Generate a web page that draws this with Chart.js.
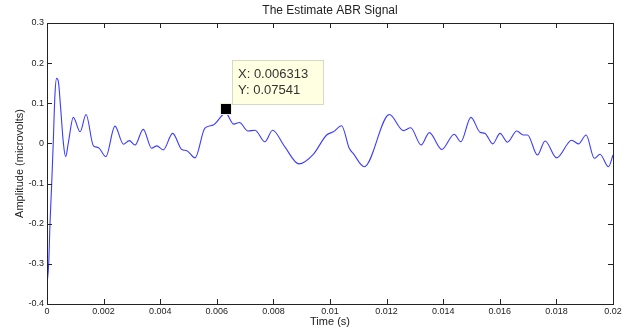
<!DOCTYPE html>
<html>
<head>
<meta charset="utf-8">
<script src="https://cdn.jsdelivr.net/npm/chart.js@4.4.1/dist/chart.umd.min.js"></script>
<style>
  html, body { margin: 0; padding: 0; background: #fff; }
  #wrap { width: 636px; height: 329px; }
</style>
</head>
<body>
<div id="wrap"><canvas id="abrChart" width="636" height="329"></canvas></div>
<script>
// Time samples (s)
const times = [
  0, 0.00006, 0.000106, 0.000166, 0.00022, 0.00028, 0.00034, 0.0004, 0.00048, 0.00058,
  0.00066, 0.00075, 0.00093, 0.00117, 0.00138, 0.00164, 0.00181, 0.00208, 0.0024, 0.0027,
  0.00291, 0.00311, 0.0034, 0.0037, 0.00388, 0.00411, 0.00444, 0.00476, 0.00494, 0.00523,
  0.00558, 0.00588, 0.006313, 0.0066, 0.0068, 0.0071, 0.00735, 0.0077, 0.00797, 0.0084,
  0.0089, 0.00941, 0.00988, 0.01012, 0.01041, 0.01068, 0.01082, 0.01121, 0.0121, 0.01259,
  0.01285, 0.01322, 0.01351, 0.01395, 0.01439, 0.01462, 0.01498, 0.0153, 0.01548, 0.01575,
  0.01601, 0.01627, 0.0166, 0.01683, 0.01698, 0.01733, 0.0176, 0.01801, 0.01854, 0.01878,
  0.01905, 0.01934, 0.01954, 0.01984, 0.02,
];

// Amplitude (microvolts) at each time sample
const amplitudes = [
  -0.35, -0.3, -0.2, -0.1, 0.0, 0.12, 0.162, 0.155, 0.09, 0.0,
  -0.033, 0.0, 0.065, 0.029, 0.072, -0.006, -0.01, -0.033, 0.043, -0.002,
  0.007, -0.004, 0.035, -0.012, -0.006, -0.016, 0.025, -0.015, -0.018, -0.036,
  0.038, 0.046, 0.07541, 0.048, 0.052, 0.031, 0.033, 0.004, 0.033, -0.008,
  -0.051, -0.027, 0.021, 0.029, 0.044, -0.012, -0.025, -0.058, 0.072, 0.032,
  0.039, -0.004, 0.027, -0.015, 0.023, 0.004, 0.065, 0.028, 0.025, -0.001,
  0.025, 0.003, 0.031, 0.021, 0.021, -0.029, 0.006, -0.036, 0.008, -0.001,
  0.021, -0.037, -0.027, -0.058, -0.029,
];

// Data tip shown on the figure
const tipX = ["0.006313"];
const tipY = ["0.07541"];

const chartTitle = "The Estimate ABR Signal";
const fontFamily = "'Liberation Sans', Arial, Helvetica, sans-serif";
const inkColor = "#222";

const formatTick = (value) => String(Number(value.toFixed(4)));

// Draws the MATLAB style box, inward ticks, title and data tip
const matlabFrame = {
  id: "matlabFrame",
  afterDatasetsDraw(chart) {
    const { ctx, chartArea: area, scales } = chart;
    const { x, y } = scales;

    ctx.save();
    ctx.strokeStyle = inkColor;
    ctx.lineWidth = 1;

    // Axis box
    ctx.strokeRect(
      Math.round(area.left) + 0.5,
      Math.round(area.top) + 0.5,
      Math.round(area.right - area.left),
      Math.round(area.bottom - area.top),
    );

    // Inward ticks
    ctx.beginPath();
    x.ticks.forEach((tick) => {
      const px = Math.round(x.getPixelForValue(tick.value)) + 0.5;
      ctx.moveTo(px, area.bottom);
      ctx.lineTo(px, area.bottom - 5);
      ctx.moveTo(px, area.top);
      ctx.lineTo(px, area.top + 5);
    });
    y.ticks.forEach((tick) => {
      const py = Math.round(y.getPixelForValue(tick.value)) + 0.5;
      ctx.moveTo(area.left, py);
      ctx.lineTo(area.left + 5, py);
      ctx.moveTo(area.right, py);
      ctx.lineTo(area.right - 5, py);
    });
    ctx.stroke();

    // Title centred over the axes
    ctx.fillStyle = inkColor;
    ctx.font = `12px ${fontFamily}`;
    ctx.textAlign = "center";
    ctx.textBaseline = "middle";
    ctx.fillText(chartTitle, (area.left + area.right) / 2, 11);

    // Data tip marker and label
    const mx = x.getPixelForValue(parseFloat(tipX[0]));
    const my = y.getPixelForValue(parseFloat(tipY[0])) - 4;

    ctx.fillStyle = "#000";
    ctx.fillRect(Math.round(mx) - 5, Math.round(my) - 5, 10, 10);
    ctx.strokeStyle = "#f4f0d0";
    ctx.strokeRect(Math.round(mx) - 5.5, Math.round(my) - 5.5, 11, 11);

    const boxLeft = Math.round(mx) + 6;
    const boxTop = Math.round(my) - 49;
    ctx.fillStyle = "#ffffe1";
    ctx.fillRect(boxLeft, boxTop, 91, 44);
    ctx.strokeStyle = "#d8d8c8";
    ctx.strokeRect(boxLeft + 0.5, boxTop + 0.5, 91, 44);

    ctx.fillStyle = "#333";
    ctx.font = `13px ${fontFamily}`;
    ctx.textAlign = "left";
    ctx.fillText(`X: ${tipX[0]}`, boxLeft + 6, boxTop + 14);
    ctx.fillText(`Y: ${tipY[0]}`, boxLeft + 6, boxTop + 30);

    ctx.restore();
  },
};

const ctx = document.getElementById("abrChart");

new Chart(ctx, {
  type: "line",
  data: {
    datasets: [
      {
        label: "ABR",
        data: times.map((t, i) => ({ x: t, y: amplitudes[i] })),
        borderColor: "#3b3bff",
        borderWidth: 1.1,
        pointRadius: 0,
        cubicInterpolationMode: "monotone",
        fill: false,
      },
    ],
  },
  options: {
    responsive: false,
    animation: false,
    devicePixelRatio: 1,
    layout: {
      padding: { top: 23, right: 23, bottom: 0, left: 0 },
    },
    plugins: {
      legend: { display: false },
      title: { display: false },
      tooltip: { enabled: false },
    },
    scales: {
      x: {
        type: "linear",
        min: 0,
        max: 0.02,
        grid: { display: false, drawTicks: false },
        border: { display: false },
        afterFit: (scale) => {
          scale.height = 25;
        },
        ticks: {
          stepSize: 0.002,
          maxRotation: 0,
          padding: 2,
          color: inkColor,
          font: { family: fontFamily, size: 9 },
          callback: formatTick,
        },
        title: {
          display: true,
          text: "Time (s)",
          color: inkColor,
          font: { family: fontFamily, size: 11 },
          padding: { top: 0, bottom: 0 },
        },
      },
      y: {
        type: "linear",
        min: -0.4,
        max: 0.3,
        grid: { display: false, drawTicks: false },
        border: { display: false },
        afterFit: (scale) => {
          scale.width = 47;
        },
        ticks: {
          stepSize: 0.1,
          padding: 3,
          color: inkColor,
          font: { family: fontFamily, size: 9 },
          callback: formatTick,
        },
        title: {
          display: true,
          text: "Amplitude (microvolts)",
          color: inkColor,
          font: { family: fontFamily, size: 11 },
          padding: { top: 13, bottom: 0 },
        },
      },
    },
  },
  plugins: [matlabFrame],
});
</script>
</body>
</html>
